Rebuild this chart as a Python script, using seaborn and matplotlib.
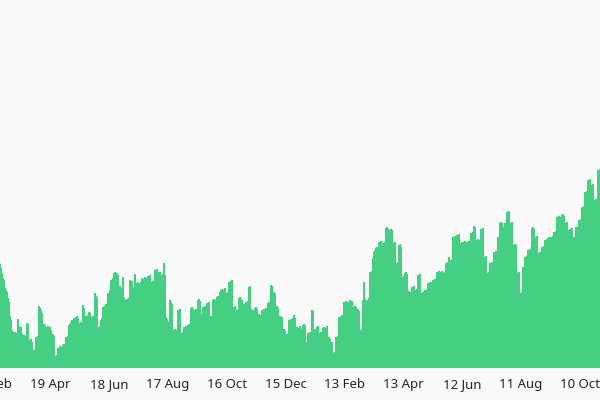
import pandas as pd
import matplotlib
matplotlib.use("Agg")
import matplotlib.pyplot as plt
import seaborn as sns

# daily values, first day 2019-02-27 (rows of 10 days)
start_date = "2019-02-27"
daily_values = [
    104, 100, 95, 90, 88, 80, 78, 76, 70, 66,
    52, 48, 38, 36, 34, 36, 35, 34, 49, 42,
    40, 41, 34, 32, 33, 31, 32, 45, 44, 28,
    27, 29, 26, 18, 17, 19, 31, 30, 32, 62,
    60, 58, 55, 43, 44, 42, 40, 41, 42, 40,
    41, 40, 38, 33, 34, 32, 11, 12, 13, 20,
    20, 22, 19, 21, 23, 24, 22, 31, 30, 32,
    43, 44, 46, 48, 48, 50, 47, 51, 52, 50,
    45, 44, 46, 45, 63, 60, 51, 52, 50, 53,
    56, 55, 51, 50, 52, 51, 75, 72, 70, 41,
    40, 42, 48, 47, 50, 61, 60, 62, 64, 63,
    75, 74, 78, 88, 87, 90, 95, 96, 94, 95,
    93, 81, 82, 80, 68, 91, 70, 68, 67, 69,
    68, 70, 88, 86, 87, 78, 80, 94, 79, 85,
    86, 84, 65, 86, 90, 88, 89, 91, 90, 87,
    92, 90, 93, 92, 86, 85, 87, 86, 98, 97,
    99, 96, 95, 96, 93, 92, 94, 105, 93, 51,
    49, 46, 45, 68, 66, 64, 38, 37, 39, 38,
    38, 58, 57, 59, 35, 34, 36, 41, 40, 42,
    41, 43, 44, 42, 60, 61, 59, 58, 57, 59,
    58, 68, 69, 67, 53, 54, 52, 61, 60, 62,
    61, 65, 64, 66, 51, 52, 50, 68, 69, 67,
    68, 71, 72, 70, 76, 78, 79, 77, 78, 80,
    75, 74, 76, 86, 85, 87, 88, 61, 60, 62,
    58, 57, 59, 70, 71, 69, 68, 63, 64, 62,
    66, 65, 67, 81, 82, 58, 59, 57, 58, 56,
    60, 61, 59, 53, 54, 52, 53, 58, 57, 59,
    58, 60, 56, 65, 66, 64, 83, 82, 75, 76,
    74, 61, 62, 60, 51, 52, 50, 51, 38, 39,
    37, 33, 34, 32, 48, 47, 49, 48, 50, 53,
    50, 40, 41, 39, 40, 42, 38, 39, 37, 43,
    44, 42, 25, 26, 35, 34, 36, 35, 58, 57,
    38, 39, 37, 41, 42, 35, 34, 36, 35, 40,
    41, 39, 40, 42, 30, 31, 29, 25, 26, 15,
    14, 16, 31, 30, 32, 51, 50, 52, 53, 51,
    66, 65, 67, 66, 64, 66, 68, 65, 66, 67,
    61, 60, 62, 61, 58, 59, 57, 38, 37, 39,
    68, 86, 69, 68, 67, 68, 70, 96, 95, 97,
    110, 116, 118, 120, 121, 119, 126, 125, 127, 126,
    125, 124, 126, 140, 141, 139, 138, 137, 139, 138,
    125, 124, 126, 105, 104, 106, 123, 122, 124, 121,
    91, 90, 92, 95, 96, 94, 76, 77, 75, 76,
    81, 80, 82, 78, 77, 79, 93, 92, 94, 75,
    74, 76, 75, 78, 77, 79, 85, 84, 86, 85,
    86, 88, 87, 89, 88, 96, 95, 97, 96, 95,
    97, 95, 94, 96, 105, 104, 106, 111, 110, 108,
    107, 109, 131, 130, 132, 131, 133, 132, 134, 125,
    124, 126, 126, 125, 127, 126, 124, 126, 127, 125,
    135, 134, 136, 142, 141, 128, 127, 129, 128, 126,
    139, 138, 140, 111, 110, 112, 95, 94, 96, 105,
    104, 106, 105, 116, 115, 117, 116, 131, 130, 145,
    144, 146, 145, 140, 141, 145, 144, 156, 155, 157,
    145, 144, 146, 123, 122, 124, 123, 95, 94, 96,
    75, 74, 76, 101, 100, 111, 110, 112, 118, 117,
    119, 118, 140, 141, 139, 131, 130, 132, 115, 114,
    116, 115, 121, 120, 122, 128, 127, 129, 130, 131,
    129, 130, 131, 130, 132, 136, 135, 137, 151, 150,
    152, 151, 150, 153, 154, 152, 145, 144, 146, 138,
    137, 139, 138, 140, 130, 131, 129, 141, 140, 142,
    148, 147, 149, 161, 160, 162, 176, 175, 177, 188,
    187, 189, 183, 182, 184, 168, 167, 169, 166, 198, 197, 199,
]

# tick labels every 60 days
tick_start = "2019-02-18"
tick_step_days = 60

dates = pd.date_range(start_date, periods=len(daily_values), freq="D")
df = pd.DataFrame({"day": range(len(daily_values)), "date": dates, "value": daily_values})

sns.set_style("white")
plt.rcParams["font.family"] = ["Noto Sans", "DejaVu Sans"]

fig = plt.figure(figsize=(6, 4), dpi=100, facecolor="#f9f9f9")
ax = fig.add_axes([-18 / 600, 32 / 400, 618 / 600, 368 / 400])
ax.set_facecolor("#f9f9f9")

sns.barplot(data=df, x="day", y="value", color="#45cf83", saturation=1,
            width=1.0, errorbar=None, linewidth=0, ax=ax)
# bars are under a pixel wide: no snapping, no antialiasing, so they tile evenly
for bar in ax.patches:
    bar.set_snap(False)
    bar.set_antialiased(False)

tick_dates = pd.date_range(tick_start, dates[-1], freq=f"{tick_step_days}D")
tick_pos = [(d - dates[0]).days for d in tick_dates]
ax.set_xticks(tick_pos)
ax.set_xticklabels([f"{d.day} {d:%b}" for d in tick_dates])
ax.set_xlim(-0.5 - 18 / 0.98, len(daily_values) - 0.5)
ax.set_ylim(0, 368)

ax.tick_params(axis="x", length=0, pad=7, labelsize=9.5, labelcolor="#262626")
ax.set_yticks([])
ax.set_xlabel("")
ax.set_ylabel("")
sns.despine(ax=ax, left=True, bottom=True)

fig.savefig("out.png", dpi=100, facecolor=fig.get_facecolor())
